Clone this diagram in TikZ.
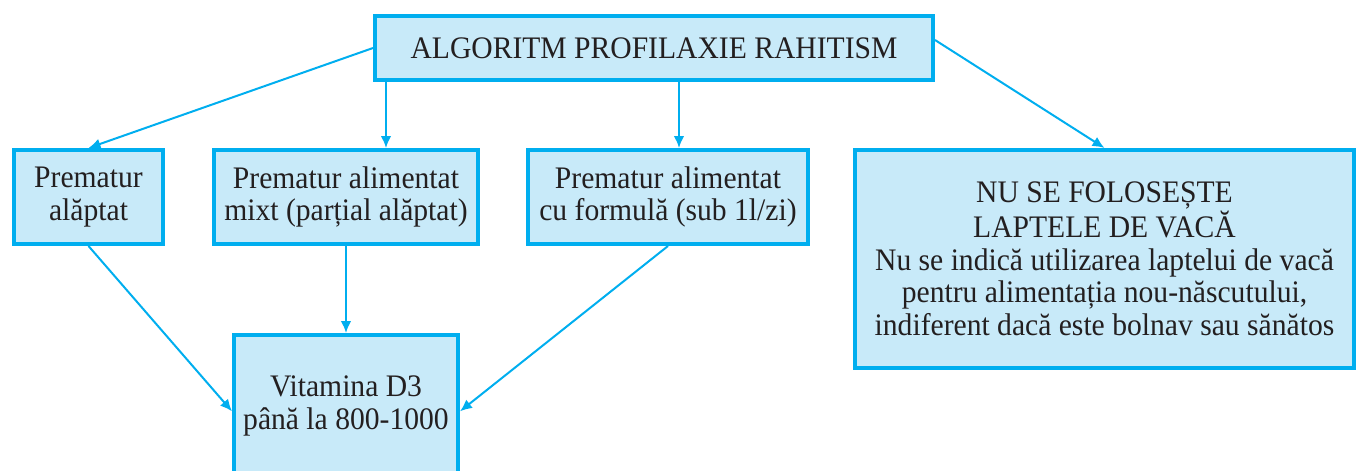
\documentclass[tikz,border=0pt]{standalone}
\usepackage{fontspec}
\setmainfont{Liberation Serif}[FakeStretch=0.945]
\usepackage{tikz}
\usetikzlibrary{arrows.meta,calc}
\definecolor{rahblue}{HTML}{00AEEF}
\definecolor{rahfill}{HTML}{C8EAF9}
\definecolor{rahtext}{HTML}{231F20}
\tikzset{
  rahbox/.style={draw=rahblue,fill=rahfill,line width=3pt,text=rahtext,align=center,inner sep=0pt,
    font=\fontsize{23.5}{24.5}\selectfont},
  rahrow/.style={rahbox,minimum height=70.5pt},
  rahline/.style={draw=rahblue,line width=1.5pt,-{Latex[length=9pt,width=8pt]}}
}

\begin{document}
\begin{tikzpicture}[x=0.75pt,y=0.75pt,yscale=-1,xscale=1]
\useasboundingbox (0,0) rectangle (1357,471);
\clip (0,0) rectangle (1357,471);

% Boxes
\node [rahbox,minimum width=418.5pt,minimum height=48pt] (alg) at (654,48) {ALGORITM PROFILAXIE RAHITISM};
\node [rahrow,minimum width=111.75pt] (alaptat) at (88.5,197) {Prematur\\alăptat};
\node [rahrow,minimum width=198pt] (mixt) at (346,197) {Prematur alimentat\\mixt (parțial alăptat)};
\node [rahrow,minimum width=210pt] (formula) at (668,197) {Prematur alimentat\\cu formulă (sub 1l/zi)};
\node [rahbox,minimum width=374.25pt,minimum height=163.5pt] (vaca) at (1104.5,259) {NU SE FOLOSEȘTE\\LAPTELE DE VACĂ\\Nu se indică utilizarea laptelui de vacă\\pentru alimentația nou-născutului,\\indiferent dacă este bolnav sau sănătos};
\node [rahbox,minimum width=168pt,minimum height=106.5pt] (vitd) at (346,406) {Vitamina D3\\până la 800-1000};

% Arrows
\draw [rahline] (alg.west) -- (alaptat.north);
\draw [rahline] ([xshift=9.75pt]alg.south west) -- ([xshift=9.75pt]alg.south west |- mixt.north);
\draw [rahline] ([xshift=8.25pt]formula.north |- alg.south) -- ([xshift=8.25pt]formula.north);
\draw [rahline] ([yshift=-6pt]alg.east) -- (vaca.north);
\draw [rahline] (alaptat.south) -- ([yshift=4pt]vitd.west);
\draw [rahline] (mixt.south) -- (vitd.north);
\draw [rahline] (formula.south) -- ([yshift=4pt]vitd.east);

\end{tikzpicture}
\end{document}
